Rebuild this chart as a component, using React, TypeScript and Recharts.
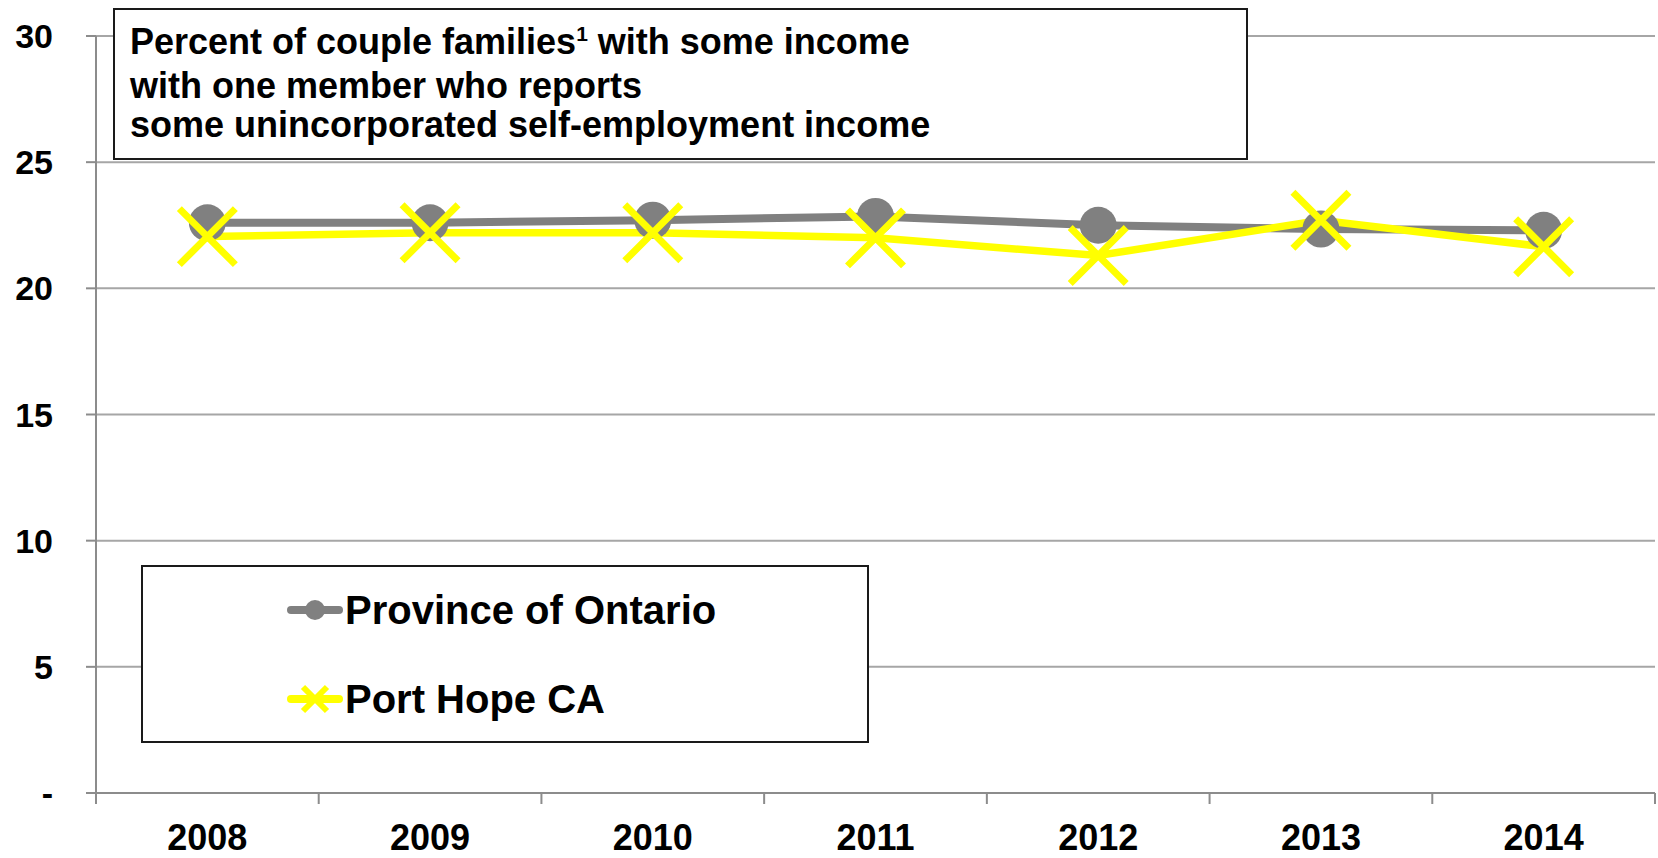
import { LineChart, Line, XAxis, YAxis, CartesianGrid, Legend } from 'recharts'

const years = ['2008', '2009', '2010', '2011', '2012', '2013', '2014']
const ontario = [22.6, 22.6, 22.7, 22.85, 22.5, 22.35, 22.3]
const portHope = [22.05, 22.2, 22.2, 22.0, 21.3, 22.7, 21.65]
const yTicks = [0, 5, 10, 15, 20, 25, 30]

const GRAY = '#808080'
const YELLOW = '#ffff00'
const FONT = "'Liberation Sans', Arial, Helvetica, sans-serif"

// points sit in the middle of each year slot, ticks on the slot edges
const data = years.map((year, i) => ({
  year,
  pos: i + 0.5,
  ontario: ontario[i],
  portHope: portHope[i],
}))
const xBounds = years.map((_, i) => i).concat(years.length)

const YearTick = (props: any) => {
  const { x, y, width, payload, index } = props
  if (index >= years.length) return null
  const half = width / years.length / 2
  return (
    <text x={x + half} y={y + 44} textAnchor="middle" fontFamily={FONT} fontWeight="bold" fontSize={36} fill="#000">
      {years[payload.value]}
    </text>
  )
}

const ValueTick = (props: any) => {
  const { x, y, payload } = props
  return (
    <text x={x} y={y + 12} textAnchor="end" fontFamily={FONT} fontWeight="bold" fontSize={34} fill="#000">
      {payload.value === 0 ? '-' : payload.value}
    </text>
  )
}

const CrossDot = (props: any) => {
  const { cx, cy, index } = props
  const h = 28
  return (
    <path
      key={`cross-${index}`}
      d={`M${cx - h},${cy - h}L${cx + h},${cy + h}M${cx - h},${cy + h}L${cx + h},${cy - h}`}
      stroke={YELLOW}
      strokeWidth={7}
      fill="none"
    />
  )
}

const LegendIcon = ({ kind }: { kind: string }) => (
  <svg width={56} height={46}>
    <line x1={4} y1={23} x2={52} y2={23} stroke={kind === 'ontario' ? GRAY : YELLOW} strokeWidth={8} strokeLinecap="round" />
    {kind === 'ontario' ? (
      <circle cx={28} cy={23} r={10} fill={GRAY} />
    ) : (
      <path d="M16,11L40,35M16,35L40,11" stroke={YELLOW} strokeWidth={6} />
    )}
  </svg>
)

const renderLegend = (props: any) => {
  const { payload } = props
  return (
    <div
      style={{
        width: 728,
        height: 178,
        boxSizing: 'border-box',
        border: '2px solid #1a1a1a',
        background: '#fff',
        position: 'relative',
      }}
    >
      {(payload || []).map((entry: any, i: number) => (
        <div
          key={entry.value}
          style={{ position: 'absolute', left: 144, top: 20 + i * 89, height: 46, display: 'flex', alignItems: 'center' }}
        >
          <LegendIcon kind={entry.dataKey} />
          <span style={{ fontFamily: FONT, fontWeight: 'bold', fontSize: 40, lineHeight: '46px', color: '#000', marginLeft: 2 }}>
            {entry.value}
          </span>
        </div>
      ))}
    </div>
  )
}

export default function App() {
  return (
    <div style={{ position: 'absolute', left: 0, top: 0, width: 1658, height: 858, background: '#fff' }}>
      <LineChart width={1658} height={858} data={data} margin={{ top: 36, right: 3, bottom: 0, left: 0 }}>
        <CartesianGrid vertical={false} stroke="#a6a6a6" strokeWidth={2} />
        <XAxis
          dataKey="pos"
          type="number"
          domain={[0, years.length]}
          ticks={xBounds}
          interval={0}
          height={65}
          tickSize={11}
          tickMargin={2}
          axisLine={{ stroke: '#8c8c8c', strokeWidth: 2 }}
          tickLine={{ stroke: '#8c8c8c', strokeWidth: 2 }}
          tick={<YearTick />}
        />
        <YAxis
          domain={[0, 30]}
          ticks={yTicks}
          interval={0}
          width={96}
          tickSize={10}
          tickMargin={33}
          axisLine={{ stroke: '#8c8c8c', strokeWidth: 2 }}
          tickLine={{ stroke: '#8c8c8c', strokeWidth: 2 }}
          tick={<ValueTick />}
        />
        <Line
          dataKey="ontario"
          name="Province of Ontario"
          stroke={GRAY}
          strokeWidth={8}
          dot={{ r: 18.5, fill: GRAY, stroke: 'none' }}
          isAnimationActive={false}
        />
        <Line
          dataKey="portHope"
          name="Port Hope CA"
          stroke={YELLOW}
          strokeWidth={7.5}
          dot={<CrossDot />}
          isAnimationActive={false}
        />
        <Legend
          layout="vertical"
          align="center"
          verticalAlign="middle"
          itemSorter="dataKey"
          content={renderLegend}
          wrapperStyle={{ position: 'absolute', left: 141, top: 565, width: 728, height: 178 }}
        />
      </LineChart>

      <div
        style={{
          position: 'absolute',
          left: 113,
          top: 8,
          width: 1135,
          height: 152,
          boxSizing: 'border-box',
          border: '2px solid #1a1a1a',
          background: '#fff',
          padding: '12px 0 0 15px',
          fontFamily: FONT,
          fontWeight: 'bold',
          fontSize: 36,
          lineHeight: '39px',
          color: '#000',
          whiteSpace: 'nowrap',
        }}
      >
        <div>
          Percent of couple families
          <span style={{ fontSize: 21, position: 'relative', top: -13 }}>1</span> with some income
        </div>
        <div>with one member who reports</div>
        <div>some unincorporated self-employment income</div>
      </div>
    </div>
  )
}
